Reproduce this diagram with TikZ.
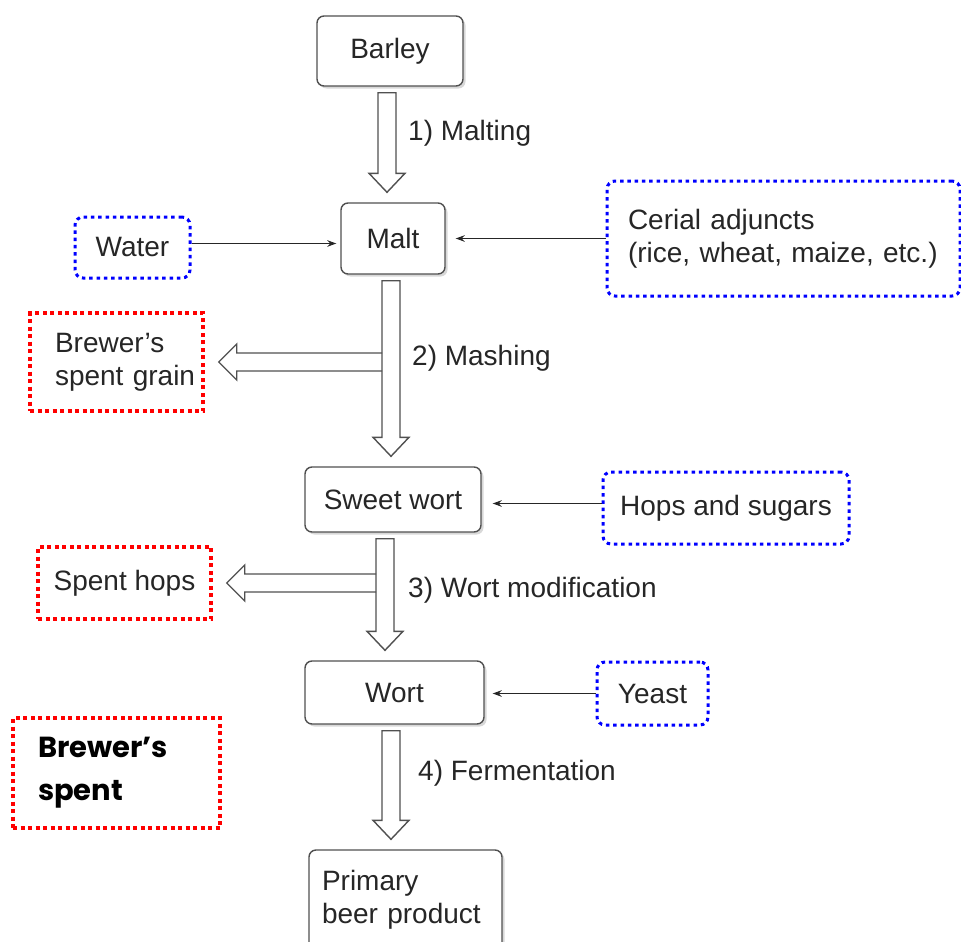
\documentclass[tikz,border=0pt]{standalone}
\usepackage{fontspec}
\setmainfont{Liberation Sans}
\newfontfamily\posterfont{Poppins}
\usetikzlibrary{arrows.meta}
\usetikzlibrary{calc}
\usetikzlibrary{shadows}

\definecolor{inkgray}{HTML}{262626}
\definecolor{framegray}{HTML}{505050}
\newcommand{\labelsize}{\fontsize{28}{33}\selectfont}

\newcommand{\flowdown}[3][0]{%
  \draw [hollow] let \p1 = ($(#2.south)+(#1,0)$), \p2 = (#3.north) in
    (\x1-9pt,\y1-6pt) -- (\x1+9pt,\y1-6pt) -- (\x1+9pt,\y2+29pt)
    -- (\x1+18pt,\y2+29pt) -- (\x1,\y2+10pt) -- (\x1-18pt,\y2+29pt)
    -- (\x1-9pt,\y2+29pt) -- cycle;}
\newcommand{\flowout}[3][0]{%
  \draw [hollow, fill=none] let \p1 = ($(#2.south)+(#1,0)$), \p2 = (#3.east) in
    (\x1-9pt,\y2+9pt) -- (\x2+32pt,\y2+9pt) -- (\x2+32pt,\y2+18pt)
    -- (\x2+14pt,\y2) -- (\x2+32pt,\y2-18pt) -- (\x2+32pt,\y2-9pt)
    -- (\x1-9pt,\y2-9pt);}

\begin{document}
\begin{tikzpicture}
  [x=1pt, y=-1pt,
  procbox/.style={draw=framegray, line width=1.4pt, rounded corners=7pt, fill=white,
    drop shadow={shadow xshift=2.5pt, shadow yshift=-2.5pt, fill=black!30},
    text=inkgray, font=\labelsize},
  inputbox/.style={draw=blue, line width=3pt, dash pattern=on 3.5pt off 3.8pt,
    rounded corners=8pt, text=inkgray, font=\labelsize},
  wastebox/.style={draw=red, line width=3.5pt, dash pattern=on 4pt off 3.5pt,
    text=inkgray, font=\labelsize},
  notebox/.style={wastebox, line width=4.5pt, text=black,
    font=\posterfont\bfseries\fontsize{29}{43}\selectfont},
  hollow/.style={draw=framegray, line width=1.4pt, fill=white, line join=miter},
  feed/.style={draw=inkgray, line width=1.3pt, -{Stealth[length=9pt,width=6.5pt]}},
  steplabel/.style={anchor=west, inner sep=0pt, text=inkgray, font=\labelsize}]
\useasboundingbox (0,0) rectangle (961,942);
\node [procbox, minimum width=146pt, minimum height=70pt] (barley) at (390,51) {Barley};
\node [procbox, minimum width=104pt, minimum height=71pt] (malt) at (393,238.5) {Malt};
\node [inputbox, minimum width=115pt, minimum height=61pt] (water) at (132.5,247.5) {Water};
\node [inputbox, minimum height=115pt, text width=311pt, inner xsep=21pt, align=left]
  (cerial) at (783.5,238.5) {Cerial adjuncts\\(rice, wheat, maize, etc.)};
\node [wastebox, minimum height=98pt, text width=123pt, inner xsep=25pt, align=left]
  (grain) at (116.5,362) {Brewer's\\spent~grain};
\node [procbox, minimum width=176pt, minimum height=65pt] (sweet) at (393,499.5) {Sweet wort};
\node [inputbox, minimum width=246pt, minimum height=72pt] (hops) at (726,508) {Hops and sugars};
\node [wastebox, minimum width=173pt, minimum height=72pt] (spenthops) at (124.5,583) {Spent hops};
\node [procbox, minimum width=179pt, minimum height=63pt] (wort) at (394.5,692.5) {Wort};
\node [inputbox, minimum width=111pt, minimum height=63pt] (yeast) at (652.5,693.5) {Yeast};
\node [notebox, minimum height=110pt, text width=157pt, inner xsep=25pt, align=left]
  (spent) at (116.5,773) {Brewer’s\\spent};
\node [procbox, minimum height=100pt, text width=167pt, inner xsep=13pt, align=left]
  (primary) at (405.5,900) {Primary\\beer product};

\flowdown[-3]{barley}{malt}
\flowdown[-2]{malt}{sweet}
\flowout[-2]{malt}{grain}
\flowdown[-8]{sweet}{wort}
\flowout[-8]{sweet}{spenthops}
\flowdown[-3.5]{wort}{primary}

\node [steplabel] (malting) at (408,133) {1) Malting};
\node [steplabel] (mashing) at (412,358) {2) Mashing};
\node [steplabel] (modification) at (408,590) {3) Wort modification};
\node [steplabel] (fermentation) at (418,773) {4) Fermentation};

\draw [feed, shorten >=4pt] ([yshift=4pt]water.east) -- ([yshift=4pt]water.east -| malt.west);
\draw [feed, shorten >=10pt] (cerial.west) -- (malt.east);
\draw [feed, shorten >=11pt] ([yshift=-4pt]sweet.east -| hops.west) -- ([yshift=-4pt]sweet.east);
\draw [feed, shorten >=8pt] (yeast.west) -- (yeast.west -| wort.east);
\end{tikzpicture}
\end{document}
